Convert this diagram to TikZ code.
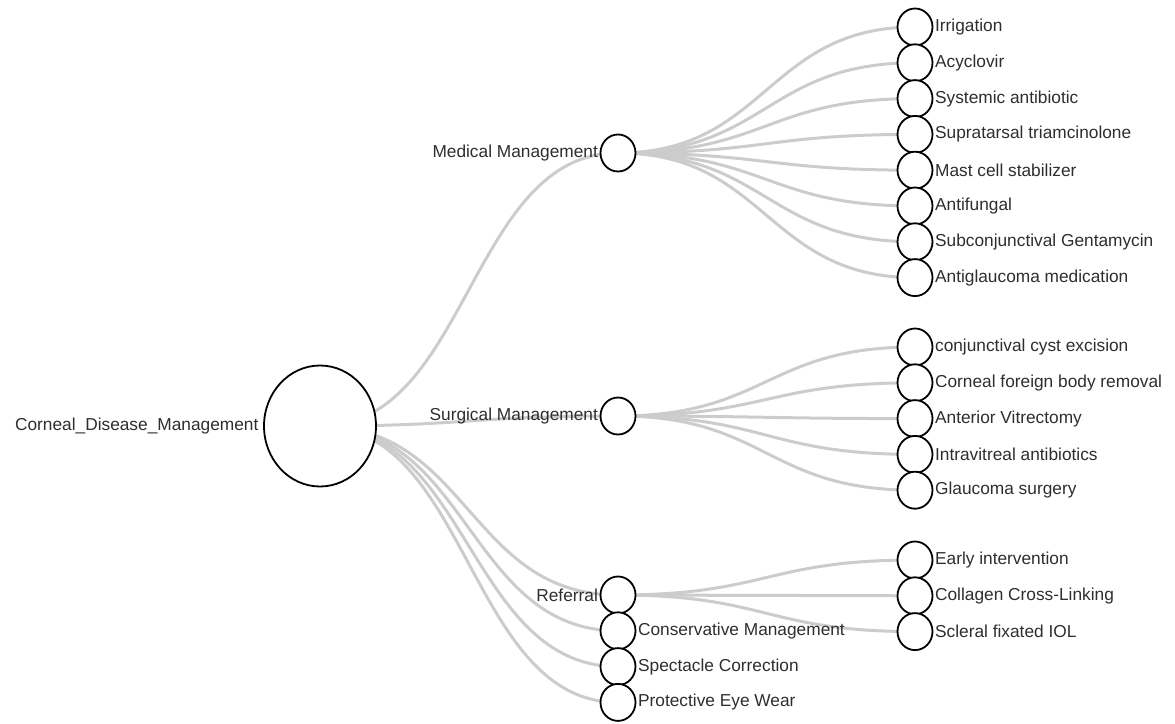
\documentclass[tikz,border=0pt]{standalone}
\usepackage{fontspec}
\setmainfont{Liberation Sans}
\usetikzlibrary{positioning, shapes.geometric, backgrounds, calc}

\begin{document}
\begin{tikzpicture}[
    x=1pt, y=-1pt,
    font=\fontsize{17.3}{20}\selectfont,
    node distance=-3.0pt,
    dot/.style={ellipse, draw=black, line width=1.8pt, fill=white, minimum width=35pt, minimum height=37pt, inner sep=0pt},
    bigdot/.style={dot, minimum width=112pt, minimum height=121pt},
    every label/.style={inner sep=1.5pt, text=black!82},
    link/.style={draw=black!20, line width=3pt,
        to path={let \p1=(\tikztostart), \p2=(\tikztotarget) in
            .. controls ({0.5*\x1+0.5*\x2},\y1) and ({0.5*\x1+0.5*\x2},\y2) .. (\tikztotarget)}}
]
\useasboundingbox (0,0) rectangle (1175,723);
% root and first level
\node[bigdot, label={[label distance=3pt]left:Corneal\_Disease\_Management}] (root) at (320,426) {};
\node[dot, label=left:Medical Management] (med) at (618,153) {};
\node[dot, label=left:Surgical Management] (surg) at (618,416) {};
\node[dot, label=left:Referral] (refr) at (618,595) {};
\node[dot, below=of refr, label=right:Conservative Management] (cons) {};
\node[dot, below=of cons, label=right:Spectacle Correction] (spec) {};
\node[dot, below=of spec, label=right:Protective Eye Wear] (prot) {};
% medical management
\node[dot, label=right:Irrigation] (irr) at (915,27) {};
\node[dot, below=of irr, label=right:Acyclovir] (acy) {};
\node[dot, below=of acy, label=right:Systemic antibiotic] (sysab) {};
\node[dot, below=of sysab, label=right:Supratarsal triamcinolone] (supra) {};
\node[dot, below=of supra, label=right:Mast cell stabilizer] (mast) {};
\node[dot, below=of mast, label=right:Antifungal] (antif) {};
\node[dot, below=of antif, label=right:Subconjunctival Gentamycin] (subcon) {};
\node[dot, below=of subcon, label=right:Antiglaucoma medication] (antigl) {};
% surgical management
\node[dot, label=right:conjunctival cyst excision] (cyst) at (915,347) {};
\node[dot, below=of cyst, label=right:Corneal foreign body removal] (cfb) {};
\node[dot, below=of cfb, label=right:Anterior Vitrectomy] (avit) {};
\node[dot, below=of avit, label=right:Intravitreal antibiotics] (intra) {};
\node[dot, below=of intra, label=right:Glaucoma surgery] (glsurg) {};
% referral
\node[dot, label=right:Early intervention] (early) at (915,560) {};
\node[dot, below=of early, label=right:Collagen Cross-Linking] (cxl) {};
\node[dot, below=of cxl, label=right:Scleral fixated IOL] (sfiol) {};
% links
\begin{scope}[on background layer]
\draw[link] (root.center) to (med.center);
\draw[link] (root.center) to (surg.center);
\draw[link] (root.center) to (refr.center);
\draw[link] (root.center) to (cons.center);
\draw[link] (root.center) to (spec.center);
\draw[link] (root.center) to (prot.center);
\draw[link] (med.center) to (irr.center);
\draw[link] (med.center) to (acy.center);
\draw[link] (med.center) to (sysab.center);
\draw[link] (med.center) to (supra.center);
\draw[link] (med.center) to (mast.center);
\draw[link] (med.center) to (antif.center);
\draw[link] (med.center) to (subcon.center);
\draw[link] (med.center) to (antigl.center);
\draw[link] (surg.center) to (cyst.center);
\draw[link] (surg.center) to (cfb.center);
\draw[link] (surg.center) to (avit.center);
\draw[link] (surg.center) to (intra.center);
\draw[link] (surg.center) to (glsurg.center);
\draw[link] (refr.center) to (early.center);
\draw[link] (refr.center) to (cxl.center);
\draw[link] (refr.center) to (sfiol.center);
\end{scope}
\end{tikzpicture}
\end{document}
